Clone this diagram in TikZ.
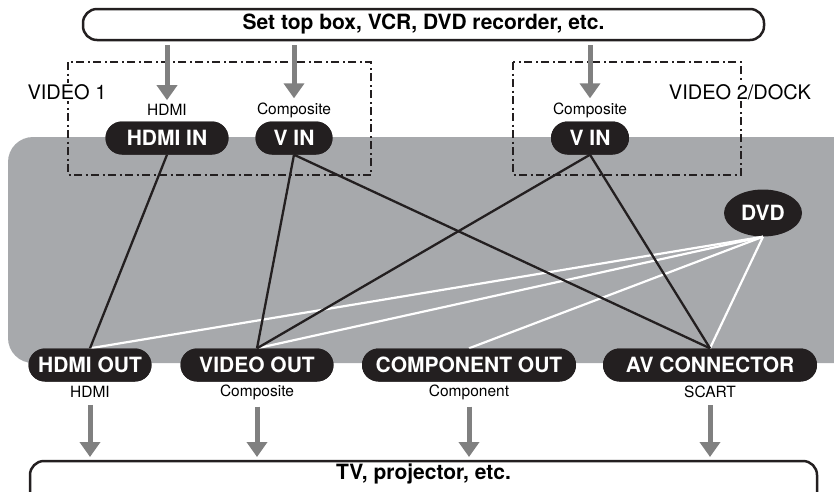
\documentclass[tikz,border=0pt]{standalone}
\usepackage{fontspec}
\setmainfont{TeX Gyre Heros}
\usetikzlibrary{shapes.misc,shapes.geometric,arrows.meta}
\definecolor{bggray}{HTML}{A7A9AC}
\definecolor{pillblack}{HTML}{231F20}
\definecolor{arrgray}{HTML}{808080}
\begin{document}
\begin{tikzpicture}[x=1pt,y=-1pt,
  pill/.style={rounded rectangle, fill=pillblack, text=white, inner sep=0pt,
    minimum height=33pt, font=\fontsize{21}{23}\selectfont\bfseries},
  lab/.style={inner sep=1pt, font=\fontsize{15.5}{17}\selectfont},
  biglab/.style={inner sep=1pt, fill=white, font=\fontsize{20}{22}\selectfont},
  wire/.style={line width=2.3pt, pillblack},
  wwire/.style={line width=2.2pt, white},
  garrow/.style={line width=5pt, arrgray, -{Triangle[length=15pt,width=20pt]}},
  grp/.style={line width=2pt, pillblack, dash pattern=on 8pt off 3.5pt on 2pt off 3.5pt},
  endbox/.style={line width=2.5pt, pillblack, rounded corners=14pt}
]
\useasboundingbox (0,0) rectangle (834,491);
% gray device area
\fill[bggray, rounded corners=25pt] (8,137) rectangle (860,363);
% source and sink boxes
\draw[endbox] (83,9) rectangle (764,40);
\node[font=\fontsize{21}{23}\selectfont\bfseries] (topbox) at (423.5,24.5) {Set top box, VCR, DVD recorder, etc.};
\coordinate (tb) at (423.5,40);
\draw[endbox] (30,461) rectangle (817,520);
\node[font=\fontsize{21}{23}\selectfont\bfseries] (botbox) at (423.5,474) {TV, projector, etc.};
\coordinate (bb) at (423.5,461);
% input groups
\draw[grp] (68,62) rectangle (371,175);
\draw[grp] (513,62) rectangle (741,175);
\node[biglab] (v1) at (67,92) {VIDEO 1};
\node[biglab] (v2) at (740,92) {VIDEO 2/DOCK};
% nodes
\node[pill, minimum width=123pt] (hdmiin) at (167,138) {HDMI IN};
\node[pill, minimum width=77pt] (vin1) at (294,138) {V IN};
\node[pill, minimum width=78pt] (vin2) at (590,138) {V IN};
\node[ellipse, fill=pillblack, text=white, inner sep=0pt, minimum width=78pt, minimum height=47pt,
  font=\fontsize{21}{23}\selectfont\bfseries] (dvd) at (763,213) {DVD};
\node[pill, minimum width=123pt] (hdmiout) at (90,365) {HDMI OUT};
\node[pill, minimum width=153pt] (vout) at (257,365) {VIDEO OUT};
\node[pill, minimum width=214pt] (cout) at (469,365) {COMPONENT OUT};
\node[pill, minimum width=214pt] (av) at (710,365) {AV CONNECTOR};
% connectors
\draw[wwire] (dvd.south) -- (hdmiout.north);
\draw[wwire] (dvd.south) -- (vout.north);
\draw[wwire] (dvd.south) -- (cout.north);
\draw[wwire] (dvd.south) -- (av.north);
\draw[wire] (hdmiin.south) -- (hdmiout.north);
\draw[wire] (vin1.south) -- (vout.north);
\draw[wire] (vin1.south) -- (av.north);
\draw[wire] (vin2.south) -- (vout.north);
\draw[wire] (vin2.south) -- (av.north);
% redraw nodes on top
\node[pill, minimum width=123pt] at (hdmiin) {HDMI IN};
\node[pill, minimum width=77pt] at (vin1) {V IN};
\node[pill, minimum width=78pt] at (vin2) {V IN};
\node[pill, minimum width=123pt] at (hdmiout) {HDMI OUT};
\node[pill, minimum width=153pt] at (vout) {VIDEO OUT};
\node[pill, minimum width=214pt] at (cout) {COMPONENT OUT};
\node[pill, minimum width=214pt] at (av) {AV CONNECTOR};
% labels
\node[lab] (l1) at (167,110) {HDMI};
\node[lab] (l2) at (294,110) {Composite};
\node[lab] (l3) at (590,110) {Composite};
\node[lab] (l4) at (90,392) {HDMI};
\node[lab] (l5) at (257,392) {Composite};
\node[lab] (l6) at (469,392) {Component};
\node[lab] (l7) at (710,392) {SCART};
% arrows
\draw[garrow] ([yshift=-5pt]tb -| l1) -- ([yshift=3pt]l1.north);
\draw[garrow] ([yshift=-5pt]tb -| l2) -- ([yshift=3pt]l2.north);
\draw[garrow] ([yshift=-5pt]tb -| l3) -- ([yshift=3pt]l3.north);
\draw[garrow] ([yshift=-6pt]l4.south) -- ([yshift=4pt]bb -| l4);
\draw[garrow] ([yshift=-6pt]l5.south) -- ([yshift=4pt]bb -| l5);
\draw[garrow] ([yshift=-6pt]l6.south) -- ([yshift=4pt]bb -| l6);
\draw[garrow] ([yshift=-6pt]l7.south) -- ([yshift=4pt]bb -| l7);
\end{tikzpicture}
\end{document}
